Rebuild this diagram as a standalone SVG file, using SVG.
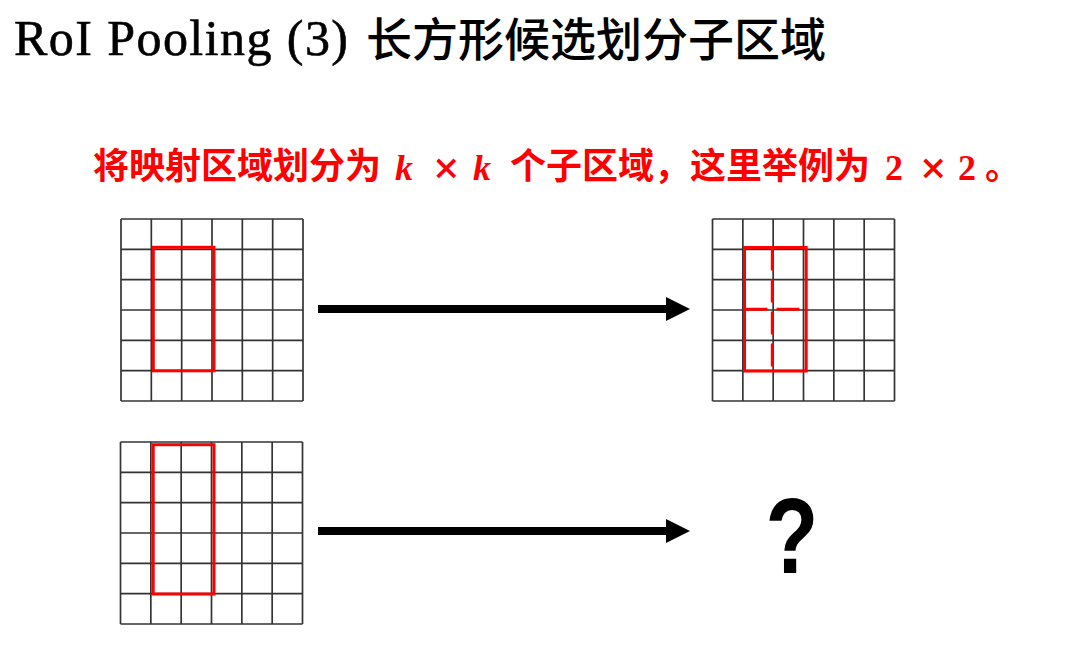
<svg xmlns="http://www.w3.org/2000/svg" width="1090" height="655" viewBox="0 0 1090 655">
<defs>
<style>
.grid line{stroke:#333;stroke-width:1.7}
.roi{fill:none;stroke:#ff0000;stroke-width:3}
.dash{stroke:#ff0000;stroke-width:3;stroke-dasharray:23 9}
.cjk{font-family:"Noto Sans CJK SC",sans-serif;font-weight:bold;fill:#ff0000;font-size:36px}
.ser{font-family:"Liberation Serif",serif;font-weight:bold;fill:#ff0000;font-size:36px}
.times{font-family:"DejaVu Serif",serif;font-weight:bold;fill:#ff0000;font-size:34px}
.arrow{stroke:#000;stroke-width:8}
</style>
<g id="gridpat">
<rect x="0" y="0" width="182" height="182" fill="#fff"/>
<g class="grid">
<line x1="0" y1="0" x2="182" y2="0"/><line x1="0" y1="30.33" x2="182" y2="30.33"/><line x1="0" y1="60.67" x2="182" y2="60.67"/><line x1="0" y1="91" x2="182" y2="91"/><line x1="0" y1="121.33" x2="182" y2="121.33"/><line x1="0" y1="151.67" x2="182" y2="151.67"/><line x1="0" y1="182" x2="182" y2="182"/>
<line x1="0" y1="0" x2="0" y2="182"/><line x1="30.33" y1="0" x2="30.33" y2="182"/><line x1="60.67" y1="0" x2="60.67" y2="182"/><line x1="91" y1="0" x2="91" y2="182"/><line x1="121.33" y1="0" x2="121.33" y2="182"/><line x1="151.67" y1="0" x2="151.67" y2="182"/><line x1="182" y1="0" x2="182" y2="182"/>
</g>
</g>
</defs>
<rect width="1090" height="655" fill="#fff"/>
<g id="title">
<text x="14" y="55" font-family="Liberation Serif, serif" font-size="50" stroke="#000" stroke-width="0.6" textLength="334" lengthAdjust="spacing">RoI Pooling (3)</text>
<text x="366" y="56" font-family="Noto Sans CJK SC, sans-serif" font-weight="500" font-size="46">长方形候选划分子区域</text>
</g>
<g id="caption">
<text class="cjk" x="93" y="179">将映射区域划分为</text>
<text class="ser" x="395" y="180" font-style="italic">k</text>
<text class="times" x="432" y="179">×</text>
<text class="ser" x="473" y="180" font-style="italic">k</text>
<text class="cjk" x="510" y="179">个子区域，这里举例为</text>
<text class="ser" x="885" y="180">2</text>
<text class="times" x="919" y="179">×</text>
<text class="ser" x="958" y="180">2</text>
<text class="cjk" x="985" y="179">。</text>
</g>
<g id="grid-top-left">
<use href="#gridpat" x="121" y="219"/>
<rect class="roi" x="153.3" y="247.3" width="60.7" height="123.5"/>
</g>
<g id="grid-top-right">
<use href="#gridpat" x="712.5" y="219"/>
<rect class="roi" x="744.5" y="247.5" width="61.7" height="123.5"/>
<line class="dash" x1="772.3" y1="247.5" x2="772.3" y2="371"/>
<line class="dash" x1="744.5" y1="309.3" x2="799.5" y2="309.3"/>
</g>
<g id="grid-bottom-left">
<use href="#gridpat" x="120.5" y="442"/>
<rect class="roi" x="153.2" y="444.7" width="60.8" height="149.3"/>
</g>
<g id="question">
<text x="0" y="0" transform="translate(792,573) scale(0.8,1)" text-anchor="middle" font-family="Liberation Sans, sans-serif" font-weight="bold" font-size="108">?</text>
</g>
<g id="connectors">
<line class="arrow" x1="318" y1="309" x2="668" y2="309"/>
<polygon points="666,297 690,309 666,321" fill="#000"/>
<line class="arrow" x1="318" y1="531" x2="668" y2="531"/>
<polygon points="666,519 690,531 666,543" fill="#000"/>
</g>
</svg>
